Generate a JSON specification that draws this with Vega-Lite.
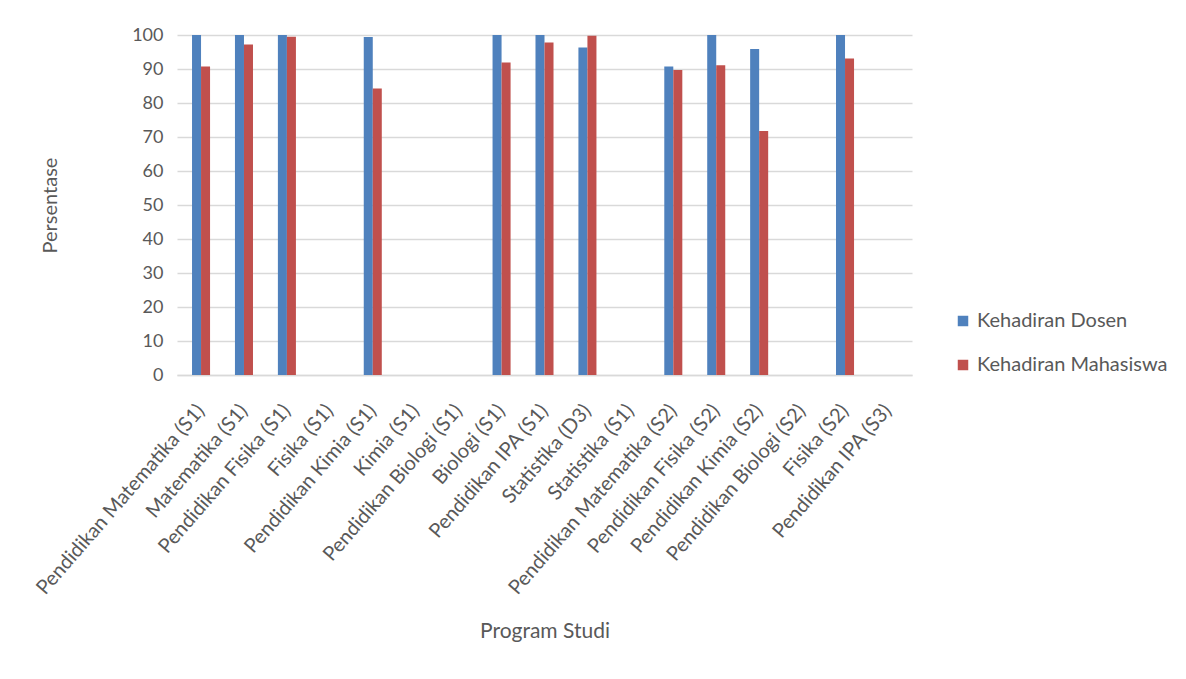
{
  "$schema": "https://vega.github.io/schema/vega-lite/v6.json",
  "width": 735,
  "height": 340,
  "autosize": {"type": "none"},
  "padding": {"left": 177, "top": 35, "right": 274, "bottom": 304},
  "background": "white",
  "config": {
    "font": "Lato",
    "view": {"stroke": null},
    "axis": {"labelFont": "Lato", "titleFont": "Lato", "labelColor": "#595959", "titleColor": "#595959", "titleFontWeight": "normal"}
  },
  "data": {
    "values": [
      {"program": "Pendidikan Matematika (S1)", "series": "Kehadiran Dosen", "value": 100},
      {"program": "Pendidikan Matematika (S1)", "series": "Kehadiran Mahasiswa", "value": 90.7},
      {"program": "Matematika (S1)", "series": "Kehadiran Dosen", "value": 100},
      {"program": "Matematika (S1)", "series": "Kehadiran Mahasiswa", "value": 97.2},
      {"program": "Pendidikan Fisika (S1)", "series": "Kehadiran Dosen", "value": 100},
      {"program": "Pendidikan Fisika (S1)", "series": "Kehadiran Mahasiswa", "value": 99.5},
      {"program": "Pendidikan Kimia (S1)", "series": "Kehadiran Dosen", "value": 99.4},
      {"program": "Pendidikan Kimia (S1)", "series": "Kehadiran Mahasiswa", "value": 84.3},
      {"program": "Biologi (S1)", "series": "Kehadiran Dosen", "value": 100},
      {"program": "Biologi (S1)", "series": "Kehadiran Mahasiswa", "value": 91.9},
      {"program": "Pendidikan IPA (S1)", "series": "Kehadiran Dosen", "value": 100},
      {"program": "Pendidikan IPA (S1)", "series": "Kehadiran Mahasiswa", "value": 97.8},
      {"program": "Statistika (D3)", "series": "Kehadiran Dosen", "value": 96.3},
      {"program": "Statistika (D3)", "series": "Kehadiran Mahasiswa", "value": 99.8},
      {"program": "Pendidikan Matematika (S2)", "series": "Kehadiran Dosen", "value": 90.7},
      {"program": "Pendidikan Matematika (S2)", "series": "Kehadiran Mahasiswa", "value": 89.7},
      {"program": "Pendidikan Fisika (S2)", "series": "Kehadiran Dosen", "value": 100},
      {"program": "Pendidikan Fisika (S2)", "series": "Kehadiran Mahasiswa", "value": 91.1},
      {"program": "Pendidikan Kimia (S2)", "series": "Kehadiran Dosen", "value": 95.9},
      {"program": "Pendidikan Kimia (S2)", "series": "Kehadiran Mahasiswa", "value": 71.8},
      {"program": "Fisika (S2)", "series": "Kehadiran Dosen", "value": 100},
      {"program": "Fisika (S2)", "series": "Kehadiran Mahasiswa", "value": 93.1}
    ]
  },
  "mark": {"type": "bar"},
  "encoding": {
    "x": {
      "field": "program",
      "type": "nominal",
      "sort": null,
      "scale": {
        "domain": ["Pendidikan Matematika (S1)", "Matematika (S1)", "Pendidikan Fisika (S1)", "Fisika (S1)", "Pendidikan Kimia (S1)", "Kimia (S1)", "Pendidikan Biologi (S1)", "Biologi (S1)", "Pendidikan IPA (S1)", "Statistika (D3)", "Statistika (S1)", "Pendidikan Matematika (S2)", "Pendidikan Fisika (S2)", "Pendidikan Kimia (S2)", "Pendidikan Biologi (S2)", "Fisika (S2)", "Pendidikan IPA (S3)"],
        "paddingInner": 0.58,
        "paddingOuter": 0.35
      },
      "axis": {
        "title": "Program Studi",
        "titleFontSize": 21,
        "titleY": 245,
        "labelAngle": -49,
        "labelFontSize": 20,
        "labelPadding": 32,
        "labelLimit": 0,
        "ticks": false,
        "domainColor": "#d9d9d9",
        "domainWidth": 1.5
      }
    },
    "xOffset": {"field": "series", "type": "nominal", "scale": {"paddingInner": 0}},
    "y": {
      "field": "value",
      "type": "quantitative",
      "scale": {"domain": [0, 100]},
      "axis": {
        "title": "Persentase",
        "titleFontSize": 20,
        "titleX": -117,
        "values": [0, 10, 20, 30, 40, 50, 60, 70, 80, 90, 100],
        "labelFontSize": 18,
        "labelPadding": 14,
        "ticks": false,
        "domain": false,
        "gridColor": "#d9d9d9",
        "gridWidth": 1.5
      }
    },
    "color": {
      "field": "series",
      "type": "nominal",
      "scale": {"domain": ["Kehadiran Dosen", "Kehadiran Mahasiswa"], "range": ["#4f81bd", "#c0504d"]},
      "legend": {
        "title": null,
        "orient": "none",
        "legendX": 776,
        "legendY": 276,
        "symbolType": "square",
        "symbolSize": 110,
        "symbolStrokeWidth": 0,
        "labelFontSize": 20,
        "labelColor": "#595959",
        "labelFont": "Lato",
        "labelLimit": 0,
        "rowPadding": 24,
        "labelOffset": 4
      }
    }
  }
}
